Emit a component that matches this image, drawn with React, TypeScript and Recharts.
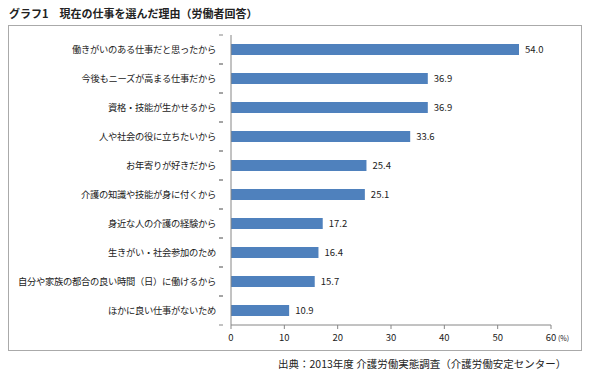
import React from 'react';
import { BarChart, Bar, XAxis, YAxis, LabelList } from 'recharts';

const reasons = [
  '働きがいのある仕事だと思ったから',
  '今後もニーズが高まる仕事だから',
  '資格・技能が生かせるから',
  '人や社会の役に立ちたいから',
  'お年寄りが好きだから',
  '介護の知識や技能が身に付くから',
  '身近な人の介護の経験から',
  '生きがい・社会参加のため',
  '自分や家族の都合の良い時間（日）に働けるから',
  'ほかに良い仕事がないため',
];

const percents = [54.0, 36.9, 36.9, 33.6, 25.4, 25.1, 17.2, 16.4, 15.7, 10.9];

const xTicks = [0, 10, 20, 30, 40, 50, 60];

const data = reasons.map((reason, i) => ({ reason, value: percents[i] }));

const FONT = '"Noto Sans CJK JP", "Noto Sans", sans-serif';
const AXIS = '#868686';

const CHART_TOP = 35;
const CHART_BOTTOM = 50;
const CHART_H = 375;
const band = (CHART_H - CHART_TOP - CHART_BOTTOM) / reasons.length;

const CategoryTick = (props: any) => {
  const { x, y, payload } = props;
  return (
    <g>
      <line x1={x - 4} x2={x} y1={y - band / 2} y2={y - band / 2} stroke={AXIS} />
      <line x1={x - 4} x2={x} y1={y + band / 2} y2={y + band / 2} stroke={AXIS} />
      <text
        x={x - 7}
        y={y}
        dy={3.5}
        textAnchor="end"
        fontSize={9.3}
        letterSpacing={-0.3}
        fill="#222"
        fontFamily={FONT}
      >
        {payload.value}
      </text>
    </g>
  );
};

const ValueTick = (props: any) => {
  const { x, y, payload } = props;
  return (
    <g>
      <text x={x} y={y} dy={10} textAnchor="middle" fontSize={9.5} fill="#222" fontFamily={FONT}>
        {payload.value}
      </text>
      {payload.value === 60 && (
        <text x={x + 7} y={y} dy={10} textAnchor="start" fontSize={7} fill="#222" fontFamily={FONT}>
          (%)
        </text>
      )}
    </g>
  );
};

export default function App() {
  return (
    <div
      style={{
        position: 'absolute',
        left: 0,
        top: 0,
        width: 600,
        height: 375,
        background: '#fff',
        fontFamily: FONT,
      }}
    >
      <div
        style={{
          position: 'absolute',
          left: 9,
          top: 5,
          fontSize: 11,
          fontWeight: 'bold',
          color: '#222',
          whiteSpace: 'nowrap',
        }}
      >
        グラフ1　現在の仕事を選んだ理由（労働者回答）
      </div>
      <div
        style={{
          position: 'absolute',
          left: 8,
          top: 25,
          width: 574,
          height: 326,
          border: '1px solid #aaa',
          boxSizing: 'border-box',
        }}
      />
      <div style={{ position: 'absolute', left: 0, top: 0 }}>
        <BarChart
          width={600}
          height={CHART_H}
          data={data}
          layout="vertical"
          margin={{ top: CHART_TOP, right: 49, left: 0, bottom: 20 }}
          barCategoryGap={0}
        >
          <XAxis
            type="number"
            domain={[0, 60]}
            ticks={xTicks}
            height={30}
            axisLine={{ stroke: AXIS }}
            tickLine={{ stroke: AXIS }}
            tickSize={4}
            tick={<ValueTick />}
          />
          <YAxis
            type="category"
            dataKey="reason"
            width={231}
            axisLine={{ stroke: AXIS }}
            tickLine={false}
            interval={0}
            tick={<CategoryTick />}
          />
          <Bar dataKey="value" fill="#4f81bd" barSize={11} isAnimationActive={false}>
            <LabelList
              dataKey="value"
              position="right"
              offset={6}
              formatter={(v: any) => Number(v).toFixed(1)}
              style={{ fontSize: 9.5, fill: '#222', fontFamily: FONT }}
            />
          </Bar>
        </BarChart>
      </div>
      <div
        style={{
          position: 'absolute',
          left: 278,
          top: 356,
          fontSize: 10.5,
          color: '#222',
          whiteSpace: 'nowrap',
        }}
      >
        出典：2013年度 介護労働実態調査（介護労働安定センター）
      </div>
    </div>
  );
}
